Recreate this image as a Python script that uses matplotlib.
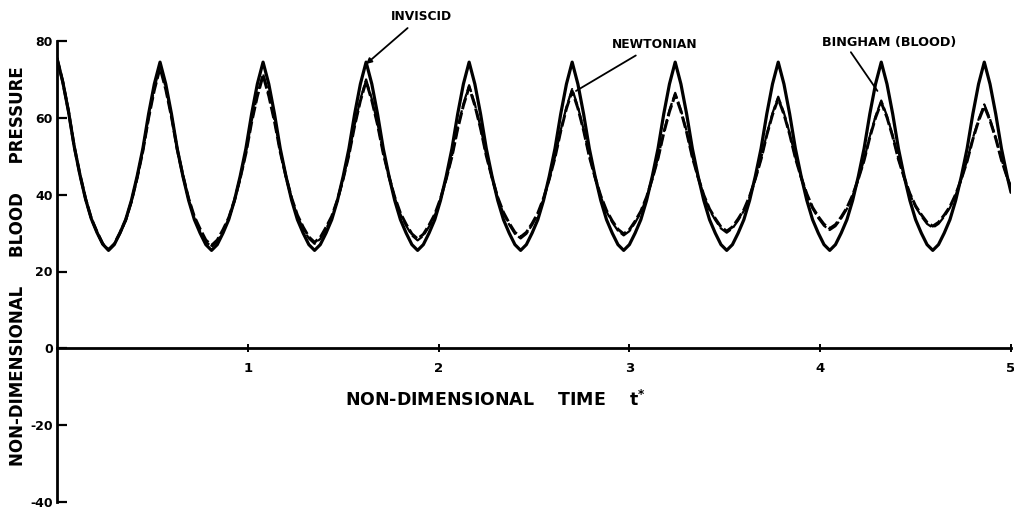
import numpy as np
import matplotlib
matplotlib.use("Agg")
import matplotlib.pyplot as plt

# ---------------- data ----------------
# time grid: step 0.03 up to 4.98, plus end point 5.0
t = np.append(np.arange(167) * 0.03, 5.0)

inviscid = [
    75.5, 69.4, 61.7, 52.6, 45.2, 38.8, 33.7, 30.1, 27.1, 25.5, 27.0, 30.0, 33.5, 38.5, 44.8, 52.0, 61.0, 68.8,
    74.5, 68.8, 61.0, 52.0, 44.8, 38.5, 33.5, 30.0, 27.0, 25.5, 27.0, 30.0, 33.5, 38.5, 44.8, 52.0, 61.0, 68.8,
    74.5, 68.8, 61.0, 52.0, 44.8, 38.5, 33.5, 30.0, 27.0, 25.5, 27.0, 30.0, 33.5, 38.5, 44.8, 52.0, 61.0, 68.8,
    74.5, 68.8, 61.0, 52.0, 44.8, 38.5, 33.5, 30.0, 27.0, 25.5, 27.0, 30.0, 33.5, 38.5, 44.8, 52.0, 61.0, 68.8,
    74.5, 68.8, 61.0, 52.0, 44.8, 38.5, 33.5, 30.0, 27.0, 25.5, 27.0, 30.0, 33.5, 38.5, 44.8, 52.0, 61.0, 68.8,
    74.5, 68.8, 61.0, 52.0, 44.8, 38.5, 33.5, 30.0, 27.0, 25.5, 27.0, 30.0, 33.5, 38.5, 44.8, 52.0, 61.0, 68.8,
    74.5, 68.8, 61.0, 52.0, 44.8, 38.5, 33.5, 30.0, 27.0, 25.5, 27.0, 30.0, 33.5, 38.5, 44.8, 52.0, 61.0, 68.8,
    74.5, 68.8, 61.0, 52.0, 44.8, 38.5, 33.5, 30.0, 27.0, 25.5, 27.0, 30.0, 33.5, 38.5, 44.8, 52.0, 61.0, 68.8,
    74.5, 68.8, 61.0, 52.0, 44.8, 38.5, 33.5, 30.0, 27.0, 25.5, 27.0, 30.0, 33.5, 38.5, 44.8, 52.0, 61.0, 68.8,
    74.5, 68.8, 61.0, 52.0, 44.8, 40.6,
]

newtonian = [
    75.5, 69.6, 62.0, 52.7, 45.3, 38.8, 33.7, 30.2, 27.1, 25.6, 27.1, 29.9, 33.2, 38.1, 44.3, 51.5, 60.2, 67.6,
    73.5, 67.8, 60.5, 52.0, 45.0, 38.8, 34.0, 30.7, 27.8, 26.4, 27.8, 30.5, 33.7, 38.3, 44.2, 50.9, 59.1, 66.0,
    71.5, 66.1, 59.3, 51.3, 44.7, 38.9, 34.4, 31.2, 28.6, 27.2, 28.5, 31.1, 34.1, 38.5, 44.1, 50.5, 58.2, 64.8,
    70.0, 64.9, 58.5, 50.9, 44.7, 39.2, 34.9, 31.9, 29.4, 28.1, 29.3, 31.7, 34.6, 38.8, 44.1, 50.1, 57.4, 63.6,
    68.5, 63.6, 57.5, 50.3, 44.4, 39.1, 35.1, 32.2, 29.8, 28.6, 29.8, 32.1, 34.9, 38.9, 44.0, 49.8, 56.8, 62.8,
    67.5, 62.9, 57.0, 50.1, 44.5, 39.5, 35.6, 32.8, 30.6, 29.4, 30.5, 32.7, 35.4, 39.2, 44.1, 49.6, 56.3, 62.0,
    66.5, 62.1, 56.5, 49.9, 44.5, 39.7, 36.0, 33.4, 31.2, 30.1, 31.2, 33.3, 35.8, 39.4, 44.1, 49.4, 55.8, 61.2,
    65.5, 61.3, 56.0, 49.7, 44.5, 40.0, 36.4, 33.9, 31.9, 30.8, 31.8, 33.8, 36.3, 39.7, 44.1, 49.1, 55.2, 60.4,
    64.5, 60.5, 55.4, 49.4, 44.5, 40.1, 36.8, 34.4, 32.4, 31.4, 32.4, 34.3, 36.6, 39.9, 44.1, 48.9, 54.7, 59.6,
    63.5, 59.7, 54.9, 49.2, 44.5, 41.8,
]

bingham = [
    75.5, 69.4, 61.8, 52.6, 45.3, 38.9, 33.8, 30.3, 27.2, 25.7, 27.2, 30.1, 33.4, 38.2, 44.3, 51.3, 59.9, 67.2,
    73.0, 67.4, 60.2, 51.8, 45.0, 39.0, 34.3, 31.1, 28.2, 26.8, 28.2, 30.9, 34.0, 38.5, 44.2, 50.7, 58.8, 65.6,
    71.0, 65.7, 59.0, 51.1, 44.7, 39.1, 34.7, 31.6, 29.0, 27.6, 28.9, 31.5, 34.4, 38.7, 44.1, 50.3, 57.9, 64.4,
    69.5, 64.5, 58.2, 50.7, 44.7, 39.4, 35.2, 32.3, 29.8, 28.5, 29.7, 32.1, 34.9, 39.0, 44.1, 49.9, 57.1, 63.2,
    68.0, 63.2, 57.2, 50.1, 44.4, 39.3, 35.4, 32.6, 30.2, 29.0, 30.2, 32.5, 35.2, 39.1, 44.0, 49.6, 56.5, 62.4,
    67.0, 62.5, 56.7, 49.9, 44.5, 39.7, 35.9, 33.2, 31.0, 29.8, 30.9, 33.1, 35.7, 39.4, 44.1, 49.4, 56.0, 61.6,
    66.0, 61.7, 56.2, 49.7, 44.5, 39.9, 36.3, 33.8, 31.6, 30.5, 31.6, 33.7, 36.1, 39.6, 44.1, 49.2, 55.5, 60.8,
    65.0, 60.9, 55.7, 49.5, 44.5, 40.2, 36.7, 34.3, 32.3, 31.2, 32.2, 34.2, 36.6, 39.9, 44.1, 48.9, 54.9, 60.0,
    64.0, 60.1, 55.1, 49.2, 44.5, 40.3, 37.1, 34.8, 32.8, 31.8, 32.8, 34.7, 36.9, 40.1, 44.1, 48.7, 54.4, 59.2,
    63.0, 59.3, 54.6, 49.0, 44.5, 41.9,
]

x_ticks = [1, 2, 3, 4, 5]
x_ticklabels = ["1", "2", "3", "4", "5"]
y_ticks = [-40, -20, 0, 20, 40, 60, 80]
y_ticklabels = ["-40", "-20", "0", "20", "40", "60", "80"]

# ---------------- figure ----------------
plt.rcParams['font.family'] = ['DejaVu Sans']
fig = plt.figure(figsize=(10.14, 5.11), dpi=100)
ax = fig.add_axes([57 / 1014, 1 - 502 / 511, (1011 - 57) / 1014, (502 - 41) / 511])

ax.plot(t, inviscid, color='black', lw=2.3, solid_joinstyle='round', solid_capstyle='round')
ax.plot(t, newtonian, color='black', lw=1.6, linestyle=(0, (6, 1.5)))
ax.plot(t, bingham, color='black', lw=2.1, linestyle=(0, (4, 1.2)))

ax.set_xlim(0, 5)
ax.set_ylim(-40, 80)

ax.spines['top'].set_visible(False)
ax.spines['right'].set_visible(False)
ax.spines['bottom'].set_position(('data', 0))
ax.spines['left'].set_linewidth(2.0)
ax.spines['bottom'].set_linewidth(2.0)

ax.set_xticks(x_ticks)
ax.set_xticklabels(x_ticklabels, fontsize=9.5, fontweight='bold')
ax.set_yticks(y_ticks)
ax.set_yticklabels(y_ticklabels, fontsize=9, fontweight='bold')
ax.tick_params(axis='y', direction='in', length=7, width=1.6, pad=3)
ax.tick_params(axis='x', direction='inout', length=6, width=1.4, pad=7)

ax.text(2.30, -13.5, "NON-DIMENSIONAL    TIME    $\\mathbf{t^{*}}$",
        ha='center', va='center', fontsize=12.5, fontweight='bold')
fig.text(18 / 1014, 1 - 266 / 511, "NON-DIMENSIONAL     BLOOD     PRESSURE",
         rotation=90, ha='center', va='center', fontsize=12, fontweight='bold')

ax.annotate("INVISCID", xy=(1.62, 74.0), xytext=(1.75, 86.5),
            arrowprops=dict(arrowstyle='-|>', color='black', lw=1.3,
                            mutation_scale=8, shrinkA=3, shrinkB=0),
            annotation_clip=False, fontsize=8.8, fontweight='bold', ha='left', va='center')
ax.annotate("NEWTONIAN", xy=(2.72, 67.0), xytext=(2.91, 79.2),
            arrowprops=dict(arrowstyle='-', color='black', lw=1.3,
                            shrinkA=3, shrinkB=0),
            annotation_clip=False, fontsize=8.8, fontweight='bold', ha='left', va='center')
ax.annotate("BINGHAM (BLOOD)", xy=(4.30, 67.0), xytext=(4.01, 79.5),
            arrowprops=dict(arrowstyle='-', color='black', lw=1.3,
                            shrinkA=0, shrinkB=0, relpos=(0.2, 0.0)),
            annotation_clip=False, fontsize=9.2, fontweight='bold', ha='left', va='center')

fig.savefig("out.png", dpi=100)
